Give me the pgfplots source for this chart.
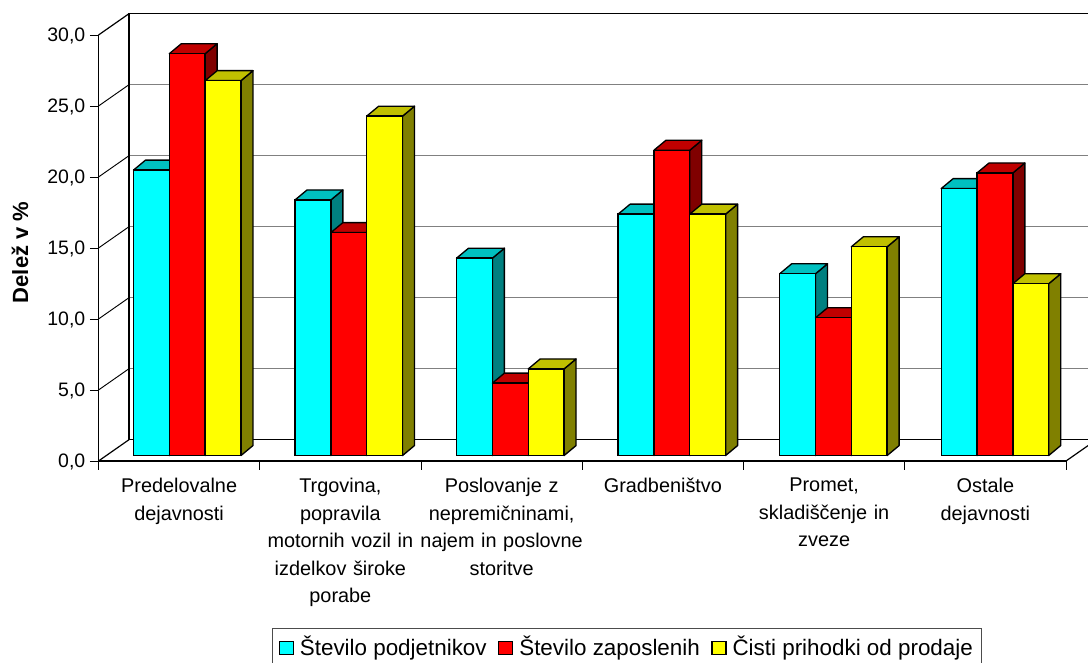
\documentclass[border=0pt]{standalone}
\usepackage{fontspec}
\setmainfont{Liberation Sans}
\usepackage{pgfplots}
\usepackage{pgfplotstable}
\pgfplotsset{compat=1.18}

\definecolor{cyanF}{RGB}{0,255,255}
\definecolor{cyanS}{RGB}{0,128,128}
\definecolor{cyanT}{RGB}{0,192,192}
\definecolor{redF}{RGB}{255,0,0}
\definecolor{redS}{RGB}{128,0,0}
\definecolor{redT}{RGB}{192,0,0}
\definecolor{yelF}{RGB}{255,255,0}
\definecolor{yelS}{RGB}{128,128,0}
\definecolor{yelT}{RGB}{192,192,0}

\pgfplotstableread{
x      podjetja zaposleni prihodki
0.5    20.1     28.3      26.4
1.5018 18.0     15.7      23.9
2.5036 13.9     5.1       6.1
3.5054 17.0     21.5      17.0
4.5072 12.8     9.7       14.7
5.509  18.8     19.9      12.1
}\data

% side and top face of each bar of one series
\newcommand\faces[4]{%
  \pgfplotsforeachungrouped\r in {0,...,5}{%
    \pgfplotstablegetelem{\r}{#1}\of\data
    \pgfmathsetmacro\xl{\r*1.0018+0.2170+#2*0.2222}%
    \pgfmathsetmacro\xr{\xl+0.2222}%
    \pgfmathsetmacro\xlb{\xl+0.0745}%
    \pgfmathsetmacro\xrb{\xr+0.0745}%
    \pgfmathsetmacro\yt{\pgfplotsretval+0.385}%
    \pgfmathsetmacro\ytb{\yt+0.704}%
    \addplot[forget plot,fill=#3,draw=black,line width=1pt,line join=round]
      coordinates {(\xr,0.385) (\xrb,1.089) (\xrb,\ytb) (\xr,\yt)} -- cycle;
    \addplot[forget plot,fill=#4,draw=black,line width=1pt,line join=round]
      coordinates {(\xl,\yt) (\xlb,\ytb) (\xrb,\ytb) (\xr,\yt)} -- cycle;
  }%
}
\pgfplotsset{
  barface/.style={ybar,draw=black,fill=#1,line width=1pt,yshift=4.1pt,
    legend image code/.code={\draw[draw=black,fill=#1,line width=1pt] (0pt,-9.9pt) rectangle (10.5pt,0.1pt);}},
}

\begin{document}
\begin{tikzpicture}
\path[use as bounding box] (-73.875pt,-150.75pt) rectangle (742.125pt,345.75pt);
\begin{axis}[
  at={(0pt,0pt)}, anchor=south west,
  scale only axis, width=725.625pt, height=319.5pt,
  clip=false,
  xmin=0, xmax=6, ymin=0, ymax=30,
  axis x line=bottom, axis y line=left,
  axis line style={-,black,line width=0.9pt},
  xtick={0,...,6}, x tick label as interval,
  xticklabels={{Predelovalne\\dejavnosti},
    {Trgovina,\\popravila\\motornih vozil in\\izdelkov široke\\porabe},
    {Poslovanje z\\nepremičninami,\\najem in poslovne\\storitve},
    {Gradbeništvo},
    {Promet,\\skladiščenje in\\zveze},
    {Ostale\\dejavnosti}},
  x tick label style={font=\fontsize{14.9}{20.6}\selectfont,align=center,text width=125pt,anchor=north,yshift=-3pt},
  ytick={0,5,...,30},
  y tick label style={font=\fontsize{14.6}{17}\selectfont,yshift=-0.6pt},
  /pgf/number format/assume math mode=true,
  /pgf/number format/.cd,fixed,fixed zerofill,precision=1,use comma,/pgfplots/.cd,
  tick align=outside, major tick length=6.4pt,
  tick style={black,line width=0.75pt},
  every axis y label/.style={at={(rel axis cs:-0.0811,0.4895)},rotate=90,anchor=center},
  ylabel={\fontsize{16.5}{19}\selectfont\bfseries Delež v \%},
  /pgf/bar width=0.2222,
  legend columns=3,
  legend style={at={(rel axis cs:0.5463,-0.393)},anchor=north,draw=black!70,line width=0.75pt,
    font=\fontsize{16.8}{20}\selectfont,inner xsep=4.5pt,inner ysep=3.5pt,
    /tikz/every odd column/.append style={column sep=2.5pt},
    /tikz/every even column/.append style={column sep=6.5pt}},
]
% walls
\addplot[forget plot,gray,line width=1pt] coordinates {(0.189,6.5) (6.2,6.5)};
\addplot[forget plot,gray,line width=1pt] coordinates {(0.189,11.5) (6.2,11.5)};
\addplot[forget plot,gray,line width=1pt] coordinates {(0.189,16.5) (6.2,16.5)};
\addplot[forget plot,gray,line width=1pt] coordinates {(0.189,21.5) (6.2,21.5)};
\addplot[forget plot,gray,line width=1pt] coordinates {(0.189,26.5) (6.2,26.5)};
\addplot[forget plot,black,line width=0.9pt] coordinates {(6.2,31.5) (0.189,31.5) (0.189,1.5) (6.2,1.5)};
\addplot[forget plot,black,line width=0.9pt] coordinates {(6,0) (6.189,1.5)};
\addplot[forget plot,black,line width=0.9pt] coordinates {(0,0) (0.189,1.5)};
\addplot[forget plot,black,line width=0.7pt] coordinates {(0,5) (0.189,6.5)};
\addplot[forget plot,black,line width=0.7pt] coordinates {(0,10) (0.189,11.5)};
\addplot[forget plot,black,line width=0.7pt] coordinates {(0,15) (0.189,16.5)};
\addplot[forget plot,black,line width=0.7pt] coordinates {(0,20) (0.189,21.5)};
\addplot[forget plot,black,line width=0.7pt] coordinates {(0,25) (0.189,26.5)};
\addplot[forget plot,black,line width=0.9pt] coordinates {(0,30) (0.189,31.5)};
% bars, series by series so that each covers the side of the one before it
\faces{podjetja}{0}{cyanS}{cyanT}
\addplot[barface=cyanF,/pgf/bar shift=-0.1719] table[x=x,y=podjetja] {\data};
\addlegendentry{Število podjetnikov}
\faces{zaposleni}{1}{redS}{redT}
\addplot[barface=redF,/pgf/bar shift=0.0503] table[x=x,y=zaposleni] {\data};
\addlegendentry{Število zaposlenih}
\faces{prihodki}{2}{yelS}{yelT}
\addplot[barface=yelF,/pgf/bar shift=0.2725] table[x=x,y=prihodki] {\data};
\addlegendentry{Čisti prihodki od prodaje}
\end{axis}
\end{tikzpicture}
\end{document}
